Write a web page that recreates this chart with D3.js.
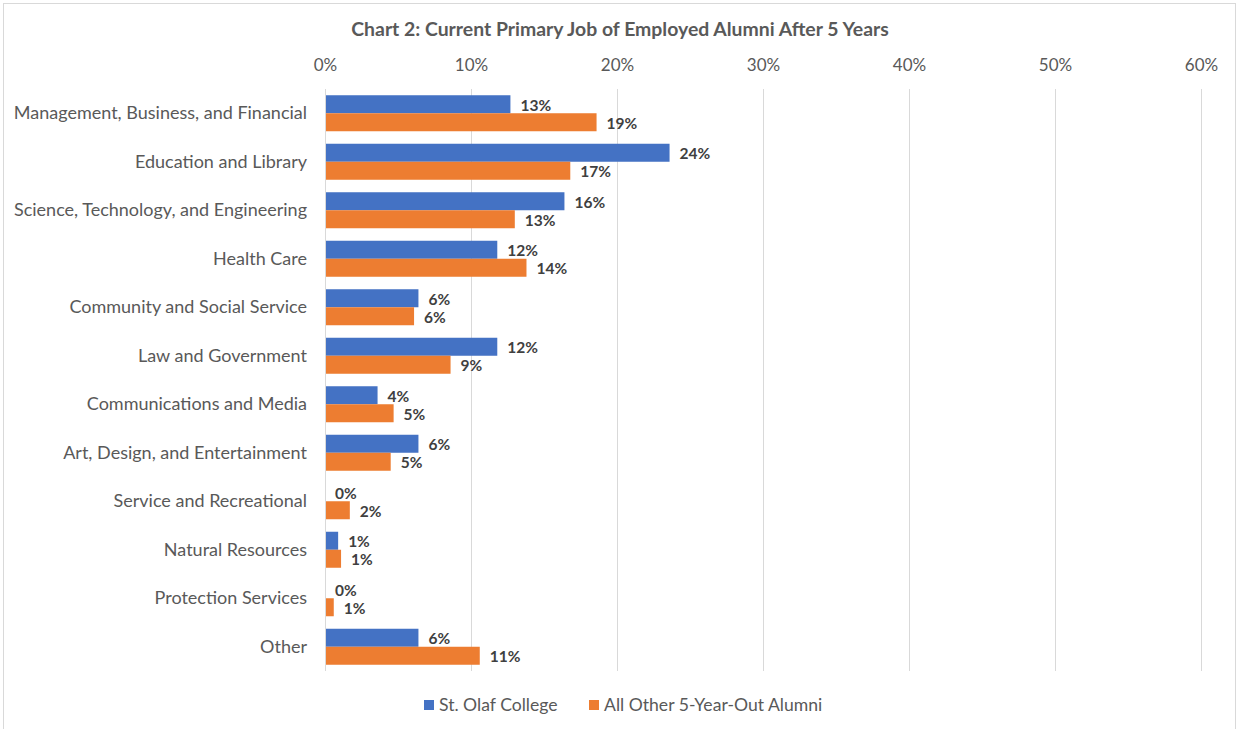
<!DOCTYPE html>
<html><head><meta charset="utf-8">
<script src="https://cdn.jsdelivr.net/npm/d3@7"></script>
<style>
body{margin:0;background:#fff;}
svg{display:block;font-family:Lato,"Open Sans",sans-serif;}
</style></head>
<body><svg id="c" width="1238" height="729"></svg>
<script>
const categories = ["Management, Business, and Financial","Education and Library","Science, Technology, and Engineering","Health Care","Community and Social Service","Law and Government","Communications and Media","Art, Design, and Entertainment","Service and Recreational","Natural Resources","Protection Services","Other"];
const stOlaf = [12.7,23.6,16.4,11.8,6.4,11.8,3.6,6.4,0,0.9,0,6.4];
const allOther = [18.6,16.8,13.0,13.8,6.1,8.6,4.7,4.5,1.7,1.1,0.6,10.6];
const seriesNames = ["St. Olaf College","All Other 5-Year-Out Alumni"];
const colors = ["#4472C4","#ED7D31"];
const xTicks = [0,10,20,30,40,50,60];
const title = "Chart 2: Current Primary Job of Employed Alumni After 5 Years";

const svg = d3.select("#c");
svg.append("rect").attr("x",3.5).attr("y",3.5).attr("width",1232).attr("height",740)
  .attr("fill","#fff").attr("stroke","#d9d9d9");

const x = d3.scaleLinear().domain([0,60]).range([325,1201]);
const y = d3.scaleBand().domain(categories).range([89,671]).paddingInner(0.2577).paddingOuter(0.1288);
const ySub = d3.scaleBand().domain([0,1]).range([0,y.bandwidth()]);

svg.append("text").attr("x",620).attr("y",36).attr("text-anchor","middle")
  .attr("font-weight","bold").attr("font-size",19.4).attr("fill","#595959").text(title);

// gridlines
svg.append("g").selectAll("line").data(xTicks).join("line")
  .attr("x1",d=>x(d)+0.5).attr("x2",d=>x(d)+0.5).attr("y1",89).attr("y2",671)
  .attr("stroke","#d9d9d9").attr("stroke-width",1);

// top axis labels
const ax = svg.append("g").attr("transform","translate(0,71)")
  .call(d3.axisTop(x).tickValues(xTicks).tickFormat(d=>d+"%").tickSize(0).tickPadding(0));
ax.select(".domain").remove();
ax.selectAll("text").attr("font-size",17).attr("fill","#595959").attr("font-family","Lato,'Open Sans',sans-serif");

// category labels
const ay = svg.append("g").attr("transform","translate(325,0)")
  .call(d3.axisLeft(y).tickSize(0).tickPadding(18));
ay.select(".domain").remove();
ay.selectAll("text").attr("font-size",18).attr("fill","#595959").attr("font-family","Lato,'Open Sans',sans-serif");

const series = [stOlaf, allOther];
series.forEach((vals,si)=>{
  const g = svg.append("g");
  g.selectAll("rect").data(vals).join("rect")
    .attr("x",x(0)).attr("y",(d,i)=>y(categories[i])+ySub(si))
    .attr("width",d=>x(d)-x(0)).attr("height",ySub.bandwidth())
    .attr("fill",colors[si]);
  g.selectAll("text").data(vals).join("text")
    .attr("x",d=>x(d)+10).attr("y",(d,i)=>y(categories[i])+ySub(si)+ySub.bandwidth()/2+1)
    .attr("dy","0.35em").attr("font-size",15.5).attr("font-weight","bold").attr("fill","#404040")
    .text(d=>Math.round(d)+"%");
});

// axis line at 0
svg.append("line").attr("x1",x(0)+0.5).attr("x2",x(0)+0.5).attr("y1",89).attr("y2",671).attr("stroke","#d9d9d9");

// legend
const legX = [424,589];
seriesNames.forEach((n,i)=>{
  svg.append("rect").attr("x",legX[i]).attr("y",700).attr("width",10).attr("height",10).attr("fill",colors[i]);
  svg.append("text").attr("x",legX[i]+15).attr("y",705).attr("dy","0.35em").attr("font-size",17.6).attr("fill","#595959").text(n);
});
</script></body></html>
